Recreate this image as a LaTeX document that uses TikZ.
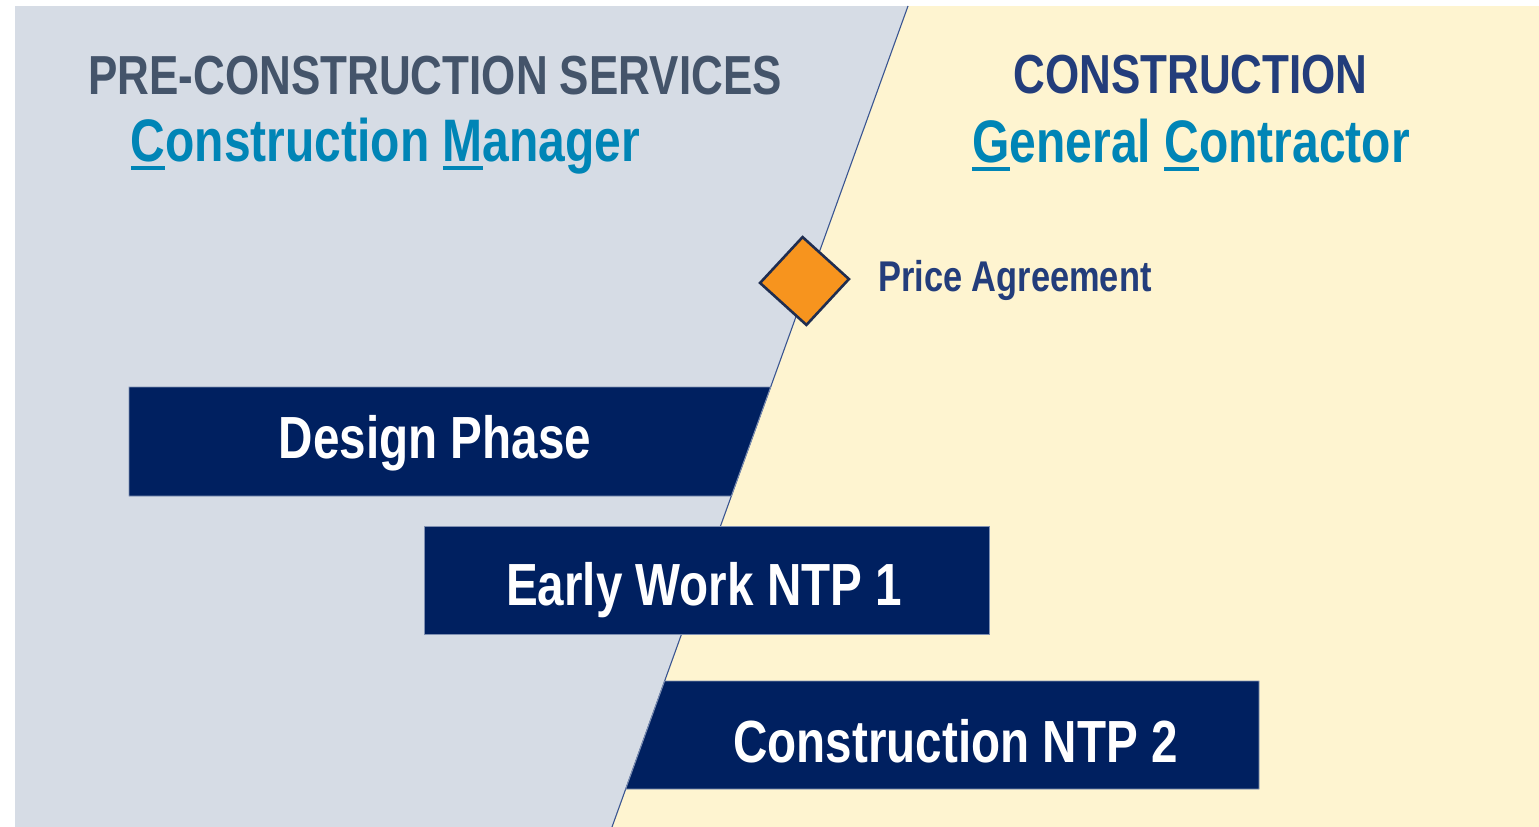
\documentclass[tikz,border=0pt]{standalone}
\usepackage{fontspec}
\newfontfamily\narrowsans[FakeStretch=0.8]{Liberation Sans}
\usetikzlibrary{calc,shapes.geometric}

\definecolor{panelgrey}{HTML}{D6DCE5}
\definecolor{panelcream}{HTML}{FEF4D0}
\definecolor{barnavy}{HTML}{002060}
\definecolor{barrim}{HTML}{7F90B2}
\definecolor{slatetext}{HTML}{44546A}
\definecolor{headnavy}{HTML}{233D7B}
\definecolor{roleblue}{HTML}{0085B6}
\definecolor{milestone}{HTML}{F7941E}
\definecolor{edgenavy}{HTML}{1F2D50}
\definecolor{divline}{HTML}{3A5591}

% underline a single key letter with a thick bar
\newcommand\keyletter[1]{\setbox0=\hbox{#1}\rlap{\rule[-9pt]{\wd0}{4pt}}\box0}

\tikzset{
  txt/.style={inner sep=0pt, anchor=base, font=\narrowsans\bfseries\fontsize{#1}{#1}\selectfont},
  phasehead/.style={txt=55, text=slatetext},
  buildhead/.style={txt=55, text=headnavy},
  rolehead/.style={txt=60, text=roleblue},
  bartext/.style={txt=59.5, text=white},
  barshape/.style={fill=barnavy, draw=barrim, line width=0.9pt},
}

\begin{document}
\begin{tikzpicture}[x=1pt, y=-1pt]
  \useasboundingbox (0,0) rectangle (1539,827);

  % divider between the two phases
  \coordinate (dtop) at (908,6);
  \coordinate (dbot) at (612,827);

  % background panels
  \fill[panelgrey] (15,6) -- (dtop) -- (dbot) -- (15,827) -- cycle;
  \fill[panelcream] (dtop) -- (1539,6) -- (1539,827) -- (dbot) -- cycle;
  \draw[divline, line width=1.1pt] (dtop) -- (dbot);

  % headings
  \node[phasehead] (prehead) at (435,94) {PRE-CONSTRUCTION SERVICES};
  \node[rolehead] (cmhead) at (385.5,161) {\keyletter{C}onstruction \keyletter{M}anager};
  \node[buildhead] (conhead) at (1190.5,93) {CONSTRUCTION};
  \node[rolehead] (gchead) at (1191,162) {\keyletter{G}eneral \keyletter{C}ontractor};

  % milestone
  \node[diamond, aspect=1, minimum width=90pt, minimum height=89pt, inner sep=0pt,
        fill=milestone, draw=edgenavy, line width=2.6pt, rotate=2.5] (price) at (804.5,281) {};
  \node[txt=43, text=headnavy, anchor=base west] (pricelabel) at (878,291) {Price Agreement};

  % phase bars
  \path[barshape] (129,387) -- ($(dtop)!{(387-6)/821}!(dbot)$)
        -- ($(dtop)!{(496-6)/821}!(dbot)$) -- (129,496) -- cycle;
  \node[bartext] (design) at (435,458) {Design Phase};

  \path[barshape] (424,526) rectangle (989,634);
  \node[bartext] (early) at (704,605) {Early Work NTP 1};

  \path[barshape] ($(dtop)!{(681-6)/821}!(dbot)$) -- (1259,681) -- (1259,789)
        -- ($(dtop)!{(789-6)/821}!(dbot)$) -- cycle;
  \node[bartext] (build) at (955.5,762) {Construction NTP 2};
\end{tikzpicture}
\end{document}
